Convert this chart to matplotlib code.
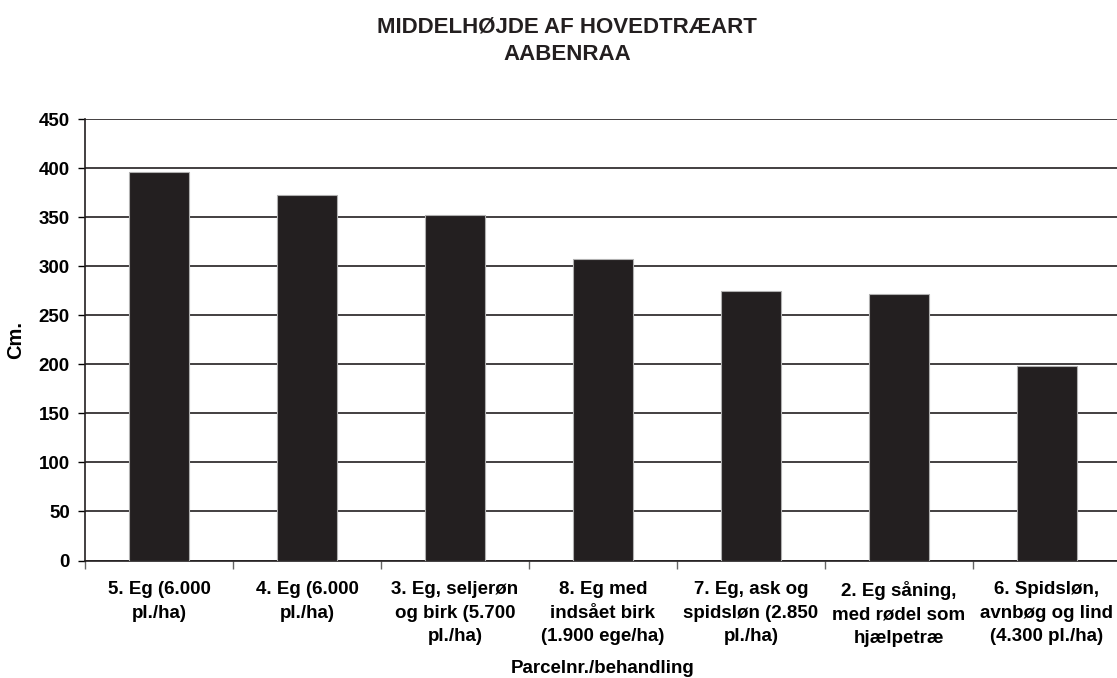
import numpy as np
import matplotlib
matplotlib.use('Agg')
import matplotlib.pyplot as plt

plt.rcParams['font.family'] = ['Liberation Sans', 'DejaVu Sans']
plt.rcParams['font.weight'] = 'bold'

# Data
categories = [
    '5. Eg (6.000\npl./ha)',
    '4. Eg (6.000\npl./ha)',
    '3. Eg, seljerøn\nog birk (5.700\npl./ha)',
    '8. Eg med\nindsået birk\n(1.900 ege/ha)',
    '7. Eg, ask og\nspidsløn (2.850\npl./ha)',
    '2. Eg såning,\nmed rødel som\nhjælpetræ',
    '6. Spidsløn,\navnbøg og lind\n(4.300 pl./ha)',
]
heights = [396, 373, 352, 307, 275, 272, 198]
y_ticks = [0, 50, 100, 150, 200, 250, 300, 350, 400, 450]

fig = plt.figure(figsize=(11.17, 6.78), dpi=100)
ax = fig.add_axes([85 / 1117, 1 - 560.5 / 678, 1036 / 1117, 441.5 / 678])

x = np.arange(len(categories))
ax.bar(x, heights, width=0.41, color='#231f20', edgecolor='#b0b0b0',
       linewidth=0.8, zorder=3)

ax.set_xlim(-0.5, len(categories) - 0.5)
ax.set_ylim(0, 450)
ax.set_yticks(y_ticks)
ax.set_yticklabels([str(v) for v in y_ticks], fontsize=13.5, fontweight='bold')
ax.yaxis.grid(True, color='#231f20', linewidth=1.2, zorder=0)

# category labels centred on bars, ticks on the boundaries
ax.set_xticks(x)
ax.set_xticklabels(categories, fontsize=13.5, fontweight='bold', linespacing=1.5)
ax.tick_params(axis='x', length=0, pad=15)
ax.set_xticks(np.arange(len(categories) + 1) - 0.5, minor=True)
ax.tick_params(axis='x', which='minor', length=6, width=1, color='#666666')
ax.tick_params(axis='y', length=5, width=1, pad=6)

for s in ['top', 'right']:
    ax.spines[s].set_visible(False)
ax.spines['left'].set_linewidth(1.2)
ax.spines['bottom'].set_linewidth(1.2)
ax.spines['left'].set_color('#231f20')
ax.spines['bottom'].set_color('#231f20')

ax.set_ylabel('Cm.', fontsize=14.5, fontweight='bold', labelpad=10)
ax.set_xlabel('Parcelnr./behandling', fontsize=13.5, fontweight='bold', labelpad=9)

fig.text(567 / 1117, 1 - 27 / 678, 'MIDDELHØJDE AF HOVEDTRÆART', ha='center', va='center',
         fontsize=16, fontweight='bold', color='#231f20')
fig.text(567 / 1117, 1 - 55 / 678, 'AABENRAA', ha='center', va='center',
         fontsize=16, fontweight='bold', color='#231f20')

fig.savefig('out.png', dpi=100)
